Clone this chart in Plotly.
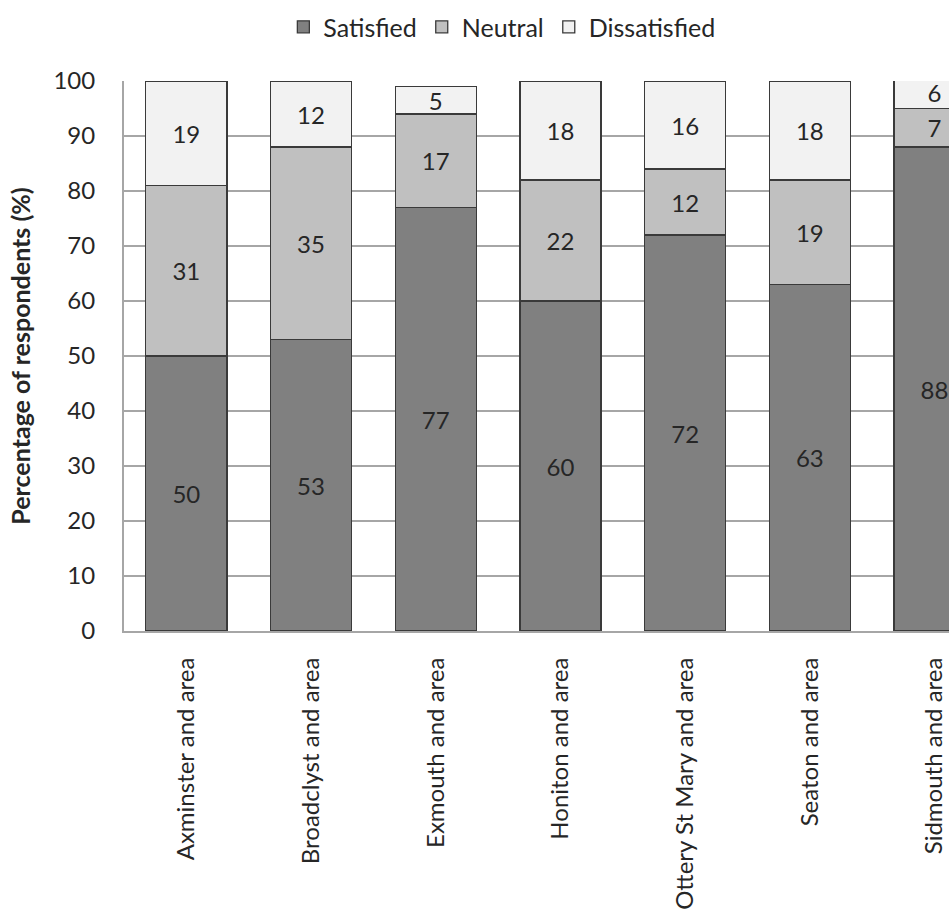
import plotly.graph_objects as go

# Survey satisfaction by area (percent of respondents)
areas = [
    "Axminster and area",
    "Broadclyst and area",
    "Exmouth and area",
    "Honiton and area",
    "Ottery St Mary and area",
    "Seaton and area",
    "Sidmouth and area",
]
satisfied = [50, 53, 77, 60, 72, 63, 88]
neutral = [31, 35, 17, 22, 12, 19, 7]
dissatisfied = [19, 12, 5, 18, 16, 18, 6]

series = [
    ("Satisfied", satisfied, "#808080"),
    ("Neutral", neutral, "#c0c0c0"),
    ("Dissatisfied", dissatisfied, "#f2f2f2"),
]

FONT = "Lato, Calibri, 'Open Sans', sans-serif"
TXT = "#262626"
NUM_SIZE = 24
TEXT_SIZE = 25
CAT_SIZE = 24

fig = go.Figure()
for name, vals, color in series:
    fig.add_trace(
        go.Bar(
            name=name,
            x=areas,
            y=vals,
            marker=dict(color=color, line=dict(color="#3a3a3a", width=1.3)),
            text=[str(v) for v in vals],
            textposition="inside",
            insidetextanchor="middle",
            textangle=0,
            textfont=dict(family=FONT, size=NUM_SIZE, color=TXT),
        )
    )

fig.update_layout(
    width=949,
    height=913,
    barmode="stack",
    bargap=0.35,
    plot_bgcolor="white",
    paper_bgcolor="white",
    margin=dict(l=124, r=0, t=81, b=282),
    font=dict(family=FONT, size=TEXT_SIZE, color=TXT),
    uniformtext=dict(minsize=NUM_SIZE, mode="show"),
    legend=dict(
        orientation="h",
        x=0.458,
        xanchor="center",
        y=1.098,
        yanchor="middle",
        traceorder="normal",
        font=dict(family=FONT, size=TEXT_SIZE, color=TXT),
        itemwidth=30,
    ),
    showlegend=True,
)

fig.update_xaxes(
    range=[-0.5, 6.116],
    automargin=False,
    tickangle=-90,
    showline=True,
    linecolor="#a6a6a6",
    linewidth=2,
    ticks="",
    showgrid=False,
    ticklabelstandoff=15,
    tickfont=dict(family=FONT, size=CAT_SIZE, color=TXT),
)

fig.update_yaxes(
    range=[0, 100],
    automargin=False,
    tick0=0,
    dtick=10,
    showline=True,
    linecolor="#a6a6a6",
    linewidth=2,
    showgrid=True,
    gridcolor="#a6a6a6",
    gridwidth=2,
    zeroline=False,
    ticks="",
    ticklabelstandoff=22,
    tickfont=dict(family=FONT, size=NUM_SIZE, color=TXT),
    title=dict(
        text="<b>Percentage of respondents (%)</b>",
        font=dict(family=FONT, size=TEXT_SIZE, color=TXT),
        standoff=16,
    ),
)

fig.write_html("out.html")
